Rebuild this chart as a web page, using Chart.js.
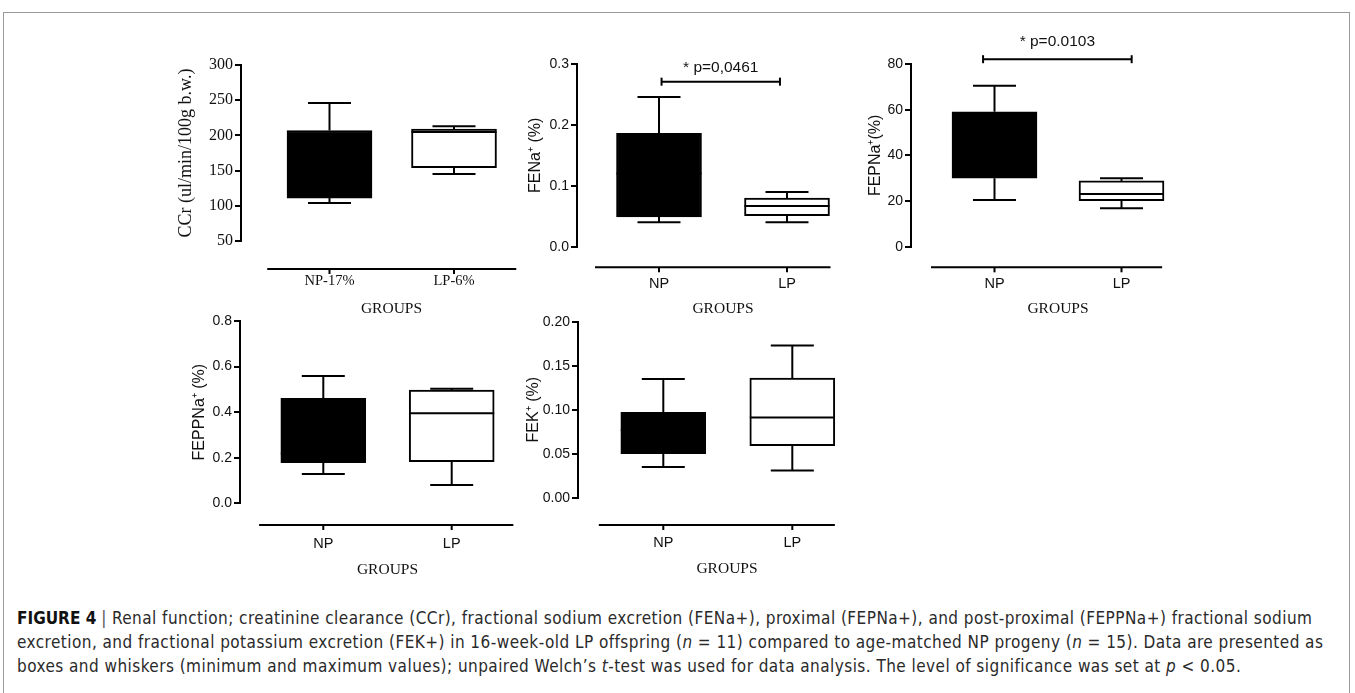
<!DOCTYPE html>
<html>
<head>
<meta charset="utf-8">
<script src="https://cdn.jsdelivr.net/npm/chart.js@4.4.1/dist/chart.umd.min.js"></script>
<style>
  html, body { margin: 0; padding: 0; background: #fff; width: 1355px; height: 693px; overflow: hidden; }
  #frame { position: absolute; left: 3px; top: 12px; width: 1347px; height: 720px; border: 1.5px solid #9a9a9a; box-sizing: border-box; }
  canvas { position: absolute; }
  #caption {
    position: absolute; left: 17px; top: 606px; white-space: nowrap;
    font-family: 'Liberation Sans Narrow', 'DejaVu Sans Condensed', 'Liberation Sans', sans-serif;
    font-stretch: condensed; font-size: 17px; letter-spacing: 0.45px; line-height: 24px; color: #2a2a2a;
  }
  #caption b { font-weight: bold; color: #111; letter-spacing: 0; }
  #caption .bar { color: #555; margin: 0 5px; }
</style>
</head>
<body>
<div id="frame"></div>
<div id="caption">
  <b>FIGURE 4</b><span class="bar">|</span>Renal function; creatinine clearance (CCr), fractional sodium excretion (FENa+), proximal (FEPNa+), and post-proximal (FEPPNa+) fractional sodium<br>
  excretion, and fractional potassium excretion (FEK+) in 16-week-old LP offspring (<i>n</i> = 11) compared to age-matched NP progeny (<i>n</i> = 15). Data are presented as<br>
  boxes and whiskers (minimum and maximum values); unpaired Welch’s <i>t</i>-test was used for data analysis. The level of significance was set at <i>p</i> &lt; 0.05.
</div>
<script>
// ── data: [min, q1, median, q3, max] per group ──
const groups    = ['NP', 'LP'];
const ccrGroups = ['NP-17%', 'LP-6%'];

const ccrNP    = [104, 111, 150, 207, 246];
const ccrLP    = [145, 154, 205, 209, 213];
const ccrTicks = [50, 100, 150, 200, 250, 300];

const fenaNP    = [0.040, 0.049, 0.120, 0.186, 0.246];
const fenaLP    = [0.040, 0.051, 0.067, 0.080, 0.090];
const fenaTicks = [0.0, 0.1, 0.2, 0.3];

const fepnaNP    = [20.4, 30.0, 45.0, 59.1, 70.5];
const fepnaLP    = [16.8, 20.2, 23.1, 28.8, 30.0];
const fepnaTicks = [0, 20, 40, 60, 80];

const feppnaNP    = [0.129, 0.178, 0.219, 0.461, 0.559];
const feppnaLP    = [0.080, 0.183, 0.395, 0.497, 0.503];
const feppnaTicks = [0.0, 0.2, 0.4, 0.6, 0.8];

const fekNP    = [0.035, 0.050, 0.077, 0.097, 0.135];
const fekLP    = [0.031, 0.059, 0.091, 0.136, 0.173];
const fekTicks = [0.00, 0.05, 0.10, 0.15, 0.20];

// significance brackets: [fromX, toX, y]
const fenaSig  = { from: 1.02, to: 1.945, y: 0.271, text: '* p=0,0461' };
const fepnaSig = { from: 0.91, to: 2.08,  y: 82.1,  text: '* p=0.0103' };

// ── styling / layout ──
const SANS  = "'Liberation Sans', Arial, sans-serif";
const SERIF = "'Liberation Serif', 'Times New Roman', serif";
const INK   = '#111';
const YW    = 80;

const PANELS = [
  { yTitle: 'CCr (ul/min/100g b.w.)', serif: true, labels: ccrGroups, boxes: [ccrNP, ccrLP], ticks: ccrTicks, dec: 0, sig: null,
    pos: { axX: 241, top: 65, bottom: 241, np: 329.5, lp: 454, gap: 28, from: 0.5, to: 2.5, labelY: 281, titleX: 391.5, titleY: 309, yTitleX: 186, pt: 45 } },
  { yTitle: 'FENa⁺ (%)', labels: groups, boxes: [fenaNP, fenaLP], ticks: fenaTicks, dec: 1, sig: fenaSig, sigOff: 14,
    pos: { axX: 577, top: 64, bottom: 246.7, np: 659, lp: 787, gap: 20.6, from: 0.5, to: 2.34, labelY: 283.5, titleX: 723, titleY: 309, yTitleX: 535.5, pt: 45 } },
  { yTitle: 'FEPNa⁺(%)', labels: groups, boxes: [fepnaNP, fepnaLP], ticks: fepnaTicks, dec: 0, sig: fepnaSig, sigOff: 17,
    pos: { axX: 911, top: 64, bottom: 246.7, np: 994.5, lp: 1121.5, gap: 20.6, from: 0.5, to: 2.32, labelY: 283.5, titleX: 1058, titleY: 309, yTitleX: 876, pt: 45 } },
  { yTitle: 'FEPPNa⁺ (%)', labels: groups, boxes: [feppnaNP, feppnaLP], ticks: feppnaTicks, dec: 1, sig: null,
    pos: { axX: 240, top: 321, bottom: 503.3, np: 323.3, lp: 451.7, gap: 21.7, from: 0.5, to: 2.48, labelY: 543.5, titleX: 387.5, titleY: 569.5, yTitleX: 200, pt: 20 } },
  { yTitle: 'FEK⁺ (%)', labels: groups, boxes: [fekNP, fekLP], ticks: fekTicks, dec: 2, sig: null,
    pos: { axX: 578.3, top: 321.7, bottom: 497.7, np: 663.3, lp: 792.3, gap: 27.3, from: 0.5, to: 2.33, labelY: 543, titleX: 727, titleY: 569, yTitleX: 533.5, pt: 20 } },
];

const BOX_W = 85;
const CAP_W = 43;

const boxPlugin = {
  id: 'boxWhisker',
  afterDatasetsDraw(chart) {
    const o = chart.options.plugins.boxWhisker;
    const { ctx, chartArea, scales: { x, y } } = chart;
    ctx.save();
    ctx.strokeStyle = '#000';
    ctx.lineWidth = 2;
    const line = (x1, y1, x2, y2) => { ctx.beginPath(); ctx.moveTo(x1, y1); ctx.lineTo(x2, y2); ctx.stroke(); };

    o.boxes.forEach((b, i) => {
      const cx = x.getPixelForValue(i + 1);
      const [mn, q1, md, q3, mx] = b.map(v => y.getPixelForValue(v));
      line(cx, q3, cx, mx);
      line(cx - CAP_W / 2, mx, cx + CAP_W / 2, mx);
      line(cx, q1, cx, mn);
      line(cx - CAP_W / 2, mn, cx + CAP_W / 2, mn);
      line(cx - BOX_W / 2, md, cx + BOX_W / 2, md);
    });

    // detached x axis (Prism style)
    const ay = chartArea.bottom + o.gap;
    line(x.getPixelForValue(o.from), ay, x.getPixelForValue(o.to), ay);
    [1, 2].forEach(v => line(x.getPixelForValue(v), ay, x.getPixelForValue(v), ay + 5));

    if (o.sig) {
      const x1 = x.getPixelForValue(o.sig.from), x2 = x.getPixelForValue(o.sig.to);
      const sy = y.getPixelForValue(o.sig.y);
      line(x1, sy, x2, sy);
      line(x1, sy - 4, x1, sy + 4);
      line(x2, sy - 4, x2, sy + 4);
      ctx.fillStyle = INK;
      ctx.font = '15.5px ' + SANS;
      ctx.textAlign = 'center';
      ctx.textBaseline = 'middle';
      ctx.fillText(o.sig.text, (x1 + x2) / 2, sy - o.sigOff);
    }
    ctx.restore();
  }
};

PANELS.forEach(p => {
  const L = p.pos;
  const tickFont  = p.serif ? { family: SERIF, size: 16 } : { family: SANS, size: 14 };
  const labFont   = p.serif ? { family: SERIF, size: 14.5 } : { family: SANS, size: 14.5 };
  const yTitFont  = p.serif ? { family: SERIF, size: 18 } : { family: SANS, size: 16 };
  const xTitFont  = { family: SERIF, size: 15.5 };

  const rightPx = 2 * L.titleX - L.axX;
  const cLeft = Math.round(L.axX - YW);
  const cTop = Math.round(L.top - L.pt);
  const cBottom = Math.round(L.titleY + xTitFont.size * 1.2 / 2);
  const cWidth = Math.round(rightPx - cLeft + 4);
  const cHeight = cBottom - cTop;
  const axX = cLeft + YW;
  const s = L.lp - L.np;
  const xMin = 1 - (L.np - axX) / s;
  const xMax = 2 + (cLeft + cWidth - 4 - L.lp) / s;
  const xH = cBottom - L.bottom;

  const cv = document.createElement('canvas');
  cv.width = cWidth; cv.height = cHeight;
  cv.style.left = cLeft + 'px'; cv.style.top = cTop + 'px';
  cv.style.width = cWidth + 'px'; cv.style.height = cHeight + 'px';
  document.body.appendChild(cv);

  new Chart(cv, {
    type: 'bar',
    data: {
      datasets: [{
        data: p.boxes.map((b, i) => ({ x: i + 1, y: [b[1], b[3]] })),
        backgroundColor: ['#000', '#fff'],
        borderColor: '#000',
        borderWidth: 2,
        borderSkipped: false,
        barThickness: BOX_W,
      }]
    },
    options: {
      responsive: false,
      animation: false,
      devicePixelRatio: 1,
      layout: { padding: { top: L.top - cTop, left: 0, right: 4, bottom: 0 } },
      plugins: {
        legend: { display: false },
        tooltip: { enabled: false },
        boxWhisker: { boxes: p.boxes, gap: L.gap, from: L.from, to: L.to, sig: p.sig, sigOff: p.sigOff },
      },
      scales: {
        x: {
          type: 'linear', min: xMin, max: xMax, offset: false,
          afterBuildTicks: sc => { sc.ticks = p.labels.map((_, i) => ({ value: i + 1 })); },
          afterFit: sc => { sc.height = xH; },
          grid: { display: false, drawTicks: false },
          border: { display: false },
          ticks: { font: labFont, color: INK, padding: L.labelY - L.bottom - labFont.size * 1.2 / 2,
                   maxRotation: 0, callback: v => p.labels[v - 1] },
          title: { display: true, text: 'GROUPS', font: xTitFont, color: INK, padding: 0 },
        },
        y: {
          min: p.ticks[0], max: p.ticks[p.ticks.length - 1],
          afterBuildTicks: sc => { sc.ticks = p.ticks.map(v => ({ value: v })); },
          afterFit: sc => { sc.width = YW; },
          border: { display: true, color: '#000', width: 2 },
          grid: { drawOnChartArea: false, drawTicks: true, tickLength: 6, color: '#000', lineWidth: 2 },
          ticks: { font: tickFont, color: INK, padding: 2, callback: v => Number(v).toFixed(p.dec) },
          title: { display: true, text: p.yTitle, font: yTitFont, color: INK,
                   padding: { top: L.yTitleX - cLeft - yTitFont.size * 1.2 / 2, bottom: 0 } },
        }
      }
    },
    plugins: [boxPlugin]
  });
});
</script>
</body>
</html>
